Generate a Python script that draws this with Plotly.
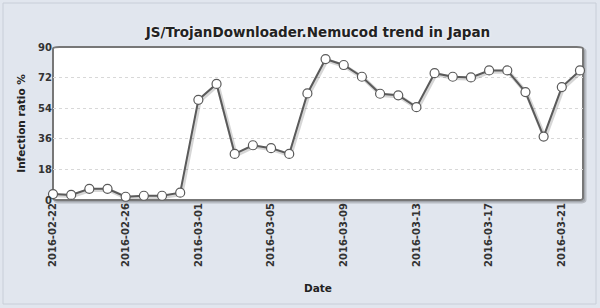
import plotly.graph_objects as go
import pandas as pd

dates = pd.date_range("2016-02-22", "2016-03-22", freq="D").strftime("%Y-%m-%d").tolist()
values = [3.5, 3, 6.6, 6.6, 1.9, 2.5, 2.5, 4.3, 58.9, 68.3,
          27.1, 32.2, 30.5, 27.1, 62.7, 82.9, 79.4, 72.5, 62.5, 61.6,
          54.6, 74.6, 72.5, 72.1, 76.2, 76.2, 63.5, 37.3, 66.4, 76.2]
tick_dates = dates[::4]
y_ticks = [0, 18, 36, 54, 72, 90]

title = "JS/TrojanDownloader.Nemucod trend in Japan"
x_title = "Date"
y_title = "Infection ratio %"

FONT = "DejaVu Sans"
TXT = "#333333"

W, H = 600, 308
L, R, T, B = 53, 17, 47, 108
pw, ph = W - L - R, H - T - B

x_start = pd.Timestamp("2016-02-22")
x_end = pd.Timestamp("2016-03-22 04:00")
day_px = pw / ((x_end - x_start) / pd.Timedelta(days=1))
sh_dx = pd.Timedelta(days=1.2 / day_px)
sh_dy = 1.2 * 90 / ph

fig = go.Figure()
# invisible carrier trace so the primary axes (ticks, grid, titles) are drawn
fig.add_trace(go.Scatter(
    x=dates, y=values, mode="lines", line=dict(color="rgba(0,0,0,0)", width=0),
    hoverinfo="skip", showlegend=False,
))
# soft shadow of the line (overlay axis shifted by ~1px)
fig.add_trace(go.Scatter(
    x=dates, y=values, mode="lines", xaxis="x2", yaxis="y2",
    line=dict(color="rgba(0,0,0,0.16)", width=4),
    hoverinfo="skip", showlegend=False, cliponaxis=False,
))
# main series on an overlay axis identical to the primary one (drawn above the shadow)
fig.add_trace(go.Scatter(
    x=dates, y=values, mode="lines+markers", xaxis="x3", yaxis="y3",
    line=dict(color="#5a5a5a", width=2),
    marker=dict(size=9, color="white", line=dict(color="#5a5a5a", width=1.2)),
    cliponaxis=False, showlegend=False,
))

def rounded(x0, y0, x1, y1, r):
    return (f"M {x0+r},{y0} L {x1-r},{y0} Q {x1},{y0} {x1},{y0+r} "
            f"L {x1},{y1-r} Q {x1},{y1} {x1-r},{y1} L {x0+r},{y1} "
            f"Q {x0},{y1} {x0},{y1-r} L {x0},{y0+r} Q {x0},{y0} {x0+r},{y0} Z")

def px(x):
    return (x - L) / pw
def py(y):
    return 1 - (y - T) / ph

shapes = [
    dict(type="rect", xref="paper", yref="paper",
         x0=px(3), x1=px(W - 4), y0=py(H - 4), y1=py(3),
         line=dict(color="#c8ced8", width=1), fillcolor="rgba(0,0,0,0)", layer="below"),
    dict(type="path", xref="paper", yref="paper",
         path=rounded(px(L + 2), py(T + ph + 2), px(W - R + 2), py(T + 2), 0.012),
         line=dict(color="rgba(0,0,0,0.18)", width=3), fillcolor="rgba(0,0,0,0.12)", layer="below"),
    dict(type="path", xref="paper", yref="paper",
         path=rounded(px(L), py(T + ph), px(W - R), py(T), 0.012),
         line=dict(color="#777777", width=2), fillcolor="white", layer="below"),
]

fig.update_layout(
    width=W, height=H,
    margin=dict(l=L, r=R, t=T, b=B),
    paper_bgcolor="#e1e6ee",
    plot_bgcolor="rgba(0,0,0,0)",
    font=dict(family=FONT, color=TXT, size=10),
    title=dict(text=f"<b>{title}</b>", x=318 / W, xanchor="center", y=1 - 32 / H, yanchor="middle",
               font=dict(family=FONT, size=13.5, color="#222222", shadow="0px 0px 3px white")),
    shapes=shapes,
    xaxis=dict(
        type="date", range=[x_start, x_end],
        tickvals=tick_dates, ticktext=[f"<b>{d}</b>" for d in tick_dates],
        tickangle=-90, tickfont=dict(family=FONT, size=10, color=TXT),
        showgrid=False, zeroline=False, showline=False, ticks="",
        title=dict(text=f"<b>{x_title}</b>", font=dict(family=FONT, size=10.5, color="#222222"), standoff=18),
    ),
    yaxis=dict(
        range=[0, 90], tickvals=y_ticks, ticktext=[f"<b>{v}</b>" for v in y_ticks],
        tickfont=dict(family=FONT, size=10, color=TXT),
        showgrid=True, gridcolor="#d8d8d8", griddash="dot", gridwidth=1,
        zeroline=False, showline=False, ticks="",
        title=dict(text=f"<b>{y_title}</b>", font=dict(family=FONT, size=10.5, color="#222222"), standoff=10),
    ),
    xaxis2=dict(type="date", overlaying="x", range=[x_start - sh_dx, x_end - sh_dx],
                visible=False, showgrid=False, zeroline=False),
    yaxis2=dict(overlaying="y", range=[sh_dy, 90 + sh_dy], visible=False,
                showgrid=False, zeroline=False),
    xaxis3=dict(type="date", overlaying="x", range=[x_start, x_end],
                visible=False, showgrid=False, zeroline=False),
    yaxis3=dict(overlaying="y", range=[0, 90], visible=False,
                showgrid=False, zeroline=False),
)

fig.write_html("out.html")
